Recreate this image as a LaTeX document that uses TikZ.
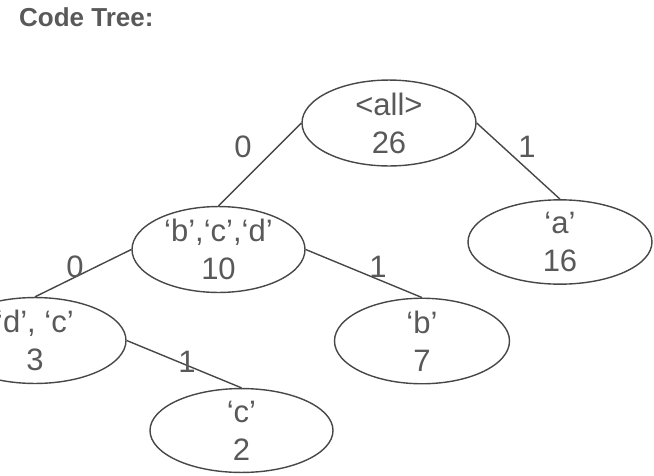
\documentclass[tikz,border=0pt]{standalone}
\usepackage{fontspec}
\setmainfont{Liberation Sans}
\usetikzlibrary{shapes.geometric}
\definecolor{txt}{HTML}{595959}
\definecolor{edgec}{HTML}{474747}
\begin{document}
\begin{tikzpicture}[x=1pt,y=-1pt,
  tnode/.style={ellipse, draw=edgec, line width=1.4pt, inner sep=0pt, text=txt, align=center, font=\fontsize{31}{38}\selectfont},
  conn/.style={draw=edgec, line width=1.4pt},
  elabel/.style={text=txt, font=\fontsize{31}{36}\selectfont, inner sep=0pt}]
\clip (0,0) rectangle (654,475);
\node[anchor=west, text=txt, font=\bfseries\fontsize{26}{30}\selectfont, inner sep=0pt] (title) at (19,17) {Code Tree:};
\node[tnode, minimum width=174pt, minimum height=76pt] (root) at (389,123) {<all>\\26};
\node[tnode, minimum width=173pt, minimum height=85pt] (bcd) at (218.5,249.5) {‘b’,‘c’,‘d’\\10};
\node[tnode, minimum width=184pt, minimum height=84pt] (a) at (560,242) {‘a’\\16};
\node[tnode, minimum width=182pt, minimum height=75pt] (dc) at (35,340.5) {‘d’, ‘c’\\3};
\node[tnode, minimum width=175pt, minimum height=76pt] (b) at (422,341) {‘b’\\7};
\node[tnode, minimum width=183pt, minimum height=65pt] (c) at (241.5,430.5) {‘c’\\2};
\draw[conn] (root.west) -- (bcd.north);
\draw[conn] (root.east) -- (a.north);
\draw[conn] (bcd.west) -- (dc.north);
\draw[conn] (bcd.east) -- (b.north);
\draw[conn] (dc.east) -- (c.north);
\node[elabel] (l0a) at (243,147) {0};
\node[elabel] (l1a) at (527,147) {1};
\node[elabel] (l0b) at (75,267) {0};
\node[elabel] (l1b) at (378,267) {1};
\node[elabel] (l1c) at (187,362) {1};
\end{tikzpicture}
\end{document}
